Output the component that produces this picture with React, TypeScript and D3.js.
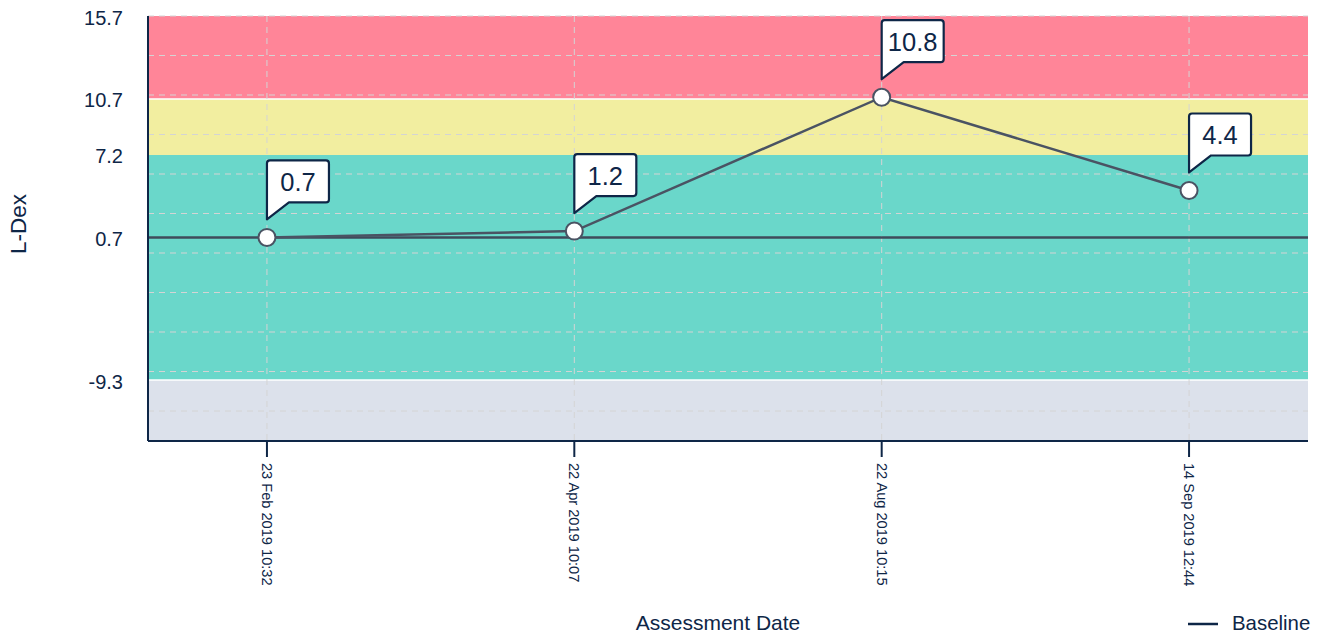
import { useEffect, useRef } from 'react';
import * as d3 from 'd3';

const dates = ['23 Feb 2019 10:32', '22 Apr 2019 10:07', '22 Aug 2019 10:15', '14 Sep 2019 12:44'];
const ldex = [0.7, 1.2, 10.8, 4.4];
const baseline = 0.7;
const yTicks = [-9.3, 0.7, 7.2, 10.7, 15.7];
const yBottom = -13.6;
// band edges, low to high
const bandEdges = [-13.6, -9.3, 7.2, 10.7, 15.7];
const bandColors = ['#dce1eb', '#6ad7ca', '#f2eea0', '#ff8598'];

const NAVY = '#0e2647';
const LINE = '#4a5363';
const FONT = '"Liberation Sans", Arial, Helvetica, sans-serif';

export default function App() {
  const svgRef = useRef<SVGSVGElement>(null);

  useEffect(() => {
    if (!svgRef.current) return;
    d3.select(svgRef.current).selectAll('*').remove();

    const W = 1322;
    const H = 637;
    const margin = { top: 16, right: 14, bottom: 196, left: 148 };
    const width = W - margin.left - margin.right;
    const height = H - margin.top - margin.bottom;

    const svg = d3.select(svgRef.current).attr('width', W).attr('height', H);
    const g = svg.append('g').attr('transform', `translate(${margin.left},${margin.top})`);

    const x = d3.scalePoint<string>().domain(dates).range([0, width]).padding(0.387);

    // the axis is not linear: each threshold gets its own stretch
    const y = d3
      .scaleLinear()
      .domain([yBottom, ...yTicks])
      .range([1, 0.8565, 0.521, 0.327, 0.195, 0].map(f => f * height));

    // bands
    g.selectAll('.band')
      .data(bandColors)
      .enter()
      .append('rect')
      .attr('x', 0)
      .attr('width', width)
      .attr('y', (_, i) => y(bandEdges[i + 1]))
      .attr('height', (_, i) => y(bandEdges[i]) - y(bandEdges[i + 1]))
      .attr('fill', d => d);

    [10.7, -9.3].forEach(v => {
      g.append('line')
        .attr('x1', 0)
        .attr('x2', width)
        .attr('y1', y(v))
        .attr('y2', y(v))
        .attr('stroke', '#fff')
        .attr('stroke-width', 1.5);
    });

    // dashed grid
    const gridStep = 39.5;
    g.selectAll('.hgrid')
      .data(d3.range(0, height, gridStep))
      .enter()
      .append('line')
      .attr('x1', 0)
      .attr('x2', width)
      .attr('y1', d => d)
      .attr('y2', d => d)
      .attr('stroke', '#d4d4d4')
      .attr('stroke-width', 1)
      .attr('stroke-dasharray', '6,5');

    g.selectAll('.vgrid')
      .data(dates)
      .enter()
      .append('line')
      .attr('x1', d => x(d)!)
      .attr('x2', d => x(d)!)
      .attr('y1', 0)
      .attr('y2', height)
      .attr('stroke', '#d4d4d4')
      .attr('stroke-width', 1)
      .attr('stroke-dasharray', '6,5');

    // baseline
    g.append('line')
      .attr('x1', 0)
      .attr('x2', width)
      .attr('y1', y(baseline))
      .attr('y2', y(baseline))
      .attr('stroke', '#3f4b5b')
      .attr('stroke-width', 2.5);

    // axes
    g.append('line').attr('x1', 0).attr('x2', 0).attr('y1', 0).attr('y2', height)
      .attr('stroke', NAVY).attr('stroke-width', 2);
    g.append('line').attr('x1', 0).attr('x2', width).attr('y1', height).attr('y2', height)
      .attr('stroke', NAVY).attr('stroke-width', 2);

    g.selectAll('.xtick')
      .data(dates)
      .enter()
      .append('line')
      .attr('x1', d => x(d)!)
      .attr('x2', d => x(d)!)
      .attr('y1', height)
      .attr('y2', height + 16)
      .attr('stroke', NAVY)
      .attr('stroke-width', 2);

    g.selectAll('.xlabel')
      .data(dates)
      .enter()
      .append('text')
      .attr('transform', d => `translate(${x(d)},${height + 22}) rotate(90)`)
      .attr('text-anchor', 'start')
      .attr('dominant-baseline', 'central')
      .attr('font-family', FONT)
      .attr('font-size', 14.6)
      .attr('fill', NAVY)
      .text(d => d);

    g.selectAll('.ylabel')
      .data(yTicks)
      .enter()
      .append('text')
      .attr('x', -25)
      .attr('y', d => y(d) + 1.5)
      .attr('text-anchor', 'end')
      .attr('dominant-baseline', 'central')
      .attr('font-family', FONT)
      .attr('font-size', 20)
      .attr('fill', NAVY)
      .text(d => d.toFixed(1));

    // series line and markers
    const pts = dates.map((d, i) => [x(d)!, y(ldex[i])] as [number, number]);
    g.append('path')
      .attr('d', d3.line()(pts))
      .attr('fill', 'none')
      .attr('stroke', LINE)
      .attr('stroke-width', 2.5);

    g.selectAll('.dot')
      .data(pts)
      .enter()
      .append('circle')
      .attr('cx', d => d[0])
      .attr('cy', d => d[1])
      .attr('r', 8.5)
      .attr('fill', '#fff')
      .attr('stroke', LINE)
      .attr('stroke-width', 2);

    // callouts
    const bw = 62;
    const bh = 42;
    const r = 3;
    pts.forEach(([px, py], i) => {
      const bottom = py - 35;
      const top = bottom - bh;
      const tip = py - 18;
      const left = px;
      const right = px + bw;
      const d = `M${left},${tip} L${left},${top + r} Q${left},${top} ${left + r},${top} ` +
        `L${right - r},${top} Q${right},${top} ${right},${top + r} ` +
        `L${right},${bottom - r} Q${right},${bottom} ${right - r},${bottom} ` +
        `L${left + 22},${bottom} Z`;
      g.append('path')
        .attr('d', d)
        .attr('fill', '#fff')
        .attr('stroke', NAVY)
        .attr('stroke-width', 2.2)
        .attr('stroke-linejoin', 'round');
      g.append('text')
        .attr('x', left + bw / 2)
        .attr('y', (top + bottom) / 2 + 1)
        .attr('text-anchor', 'middle')
        .attr('dominant-baseline', 'central')
        .attr('font-family', FONT)
        .attr('font-size', 25.5)
        .attr('fill', NAVY)
        .text(ldex[i].toFixed(1));
    });

    // titles
    svg.append('text')
      .attr('transform', 'translate(18,224) rotate(-90)')
      .attr('text-anchor', 'middle')
      .attr('dominant-baseline', 'central')
      .attr('font-family', FONT)
      .attr('font-size', 22.5)
      .attr('fill', NAVY)
      .text('L-Dex');

    svg.append('text')
      .attr('x', 718)
      .attr('y', 630)
      .attr('text-anchor', 'middle')
      .attr('font-family', FONT)
      .attr('font-size', 21)
      .attr('fill', NAVY)
      .text('Assessment Date');

    // legend
    svg.append('line')
      .attr('x1', 1188).attr('x2', 1218).attr('y1', 624).attr('y2', 624)
      .attr('stroke', NAVY).attr('stroke-width', 2.5);
    svg.append('text')
      .attr('x', 1232)
      .attr('y', 630)
      .attr('font-family', FONT)
      .attr('font-size', 20.4)
      .attr('fill', NAVY)
      .text('Baseline');
  }, []);

  return (
    <svg
      ref={svgRef}
      style={{ position: 'absolute', left: 0, top: 0, display: 'block', background: '#fff' }}
    />
  );
}
